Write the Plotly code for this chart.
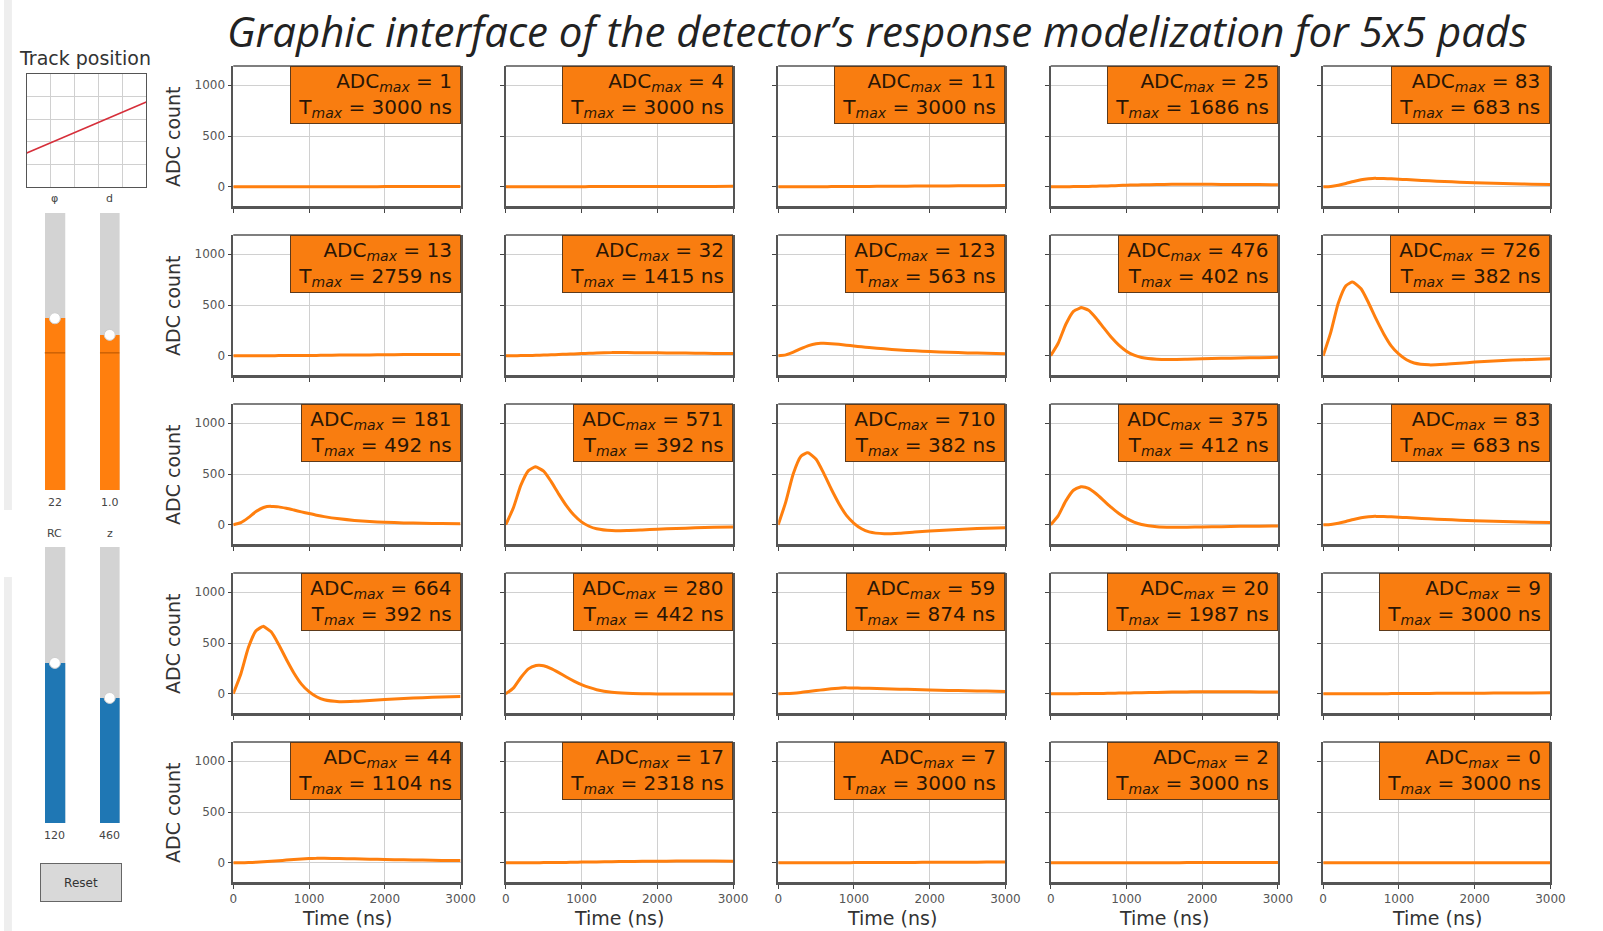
import plotly.graph_objects as go

W, H = 1603, 931

# Sampling times of the simulated pad signals (ns)
TIME_NS = [0, 100, 200, 300, 400, 500, 600, 700, 800, 900, 1000, 1100, 1200,
           1400, 1600, 1800, 2000, 2250, 2500, 2750, 3000]

# Peak amplitude and peak time of each pad (row by row, 5x5)
ADC_MAX = [[1, 4, 11, 25, 83],
           [13, 32, 123, 476, 726],
           [181, 571, 710, 375, 83],
           [664, 280, 59, 20, 9],
           [44, 17, 7, 2, 0]]
T_MAX = [[3000, 3000, 3000, 1686, 683],
         [2759, 1415, 563, 402, 382],
         [492, 392, 382, 412, 683],
         [392, 442, 874, 1987, 3000],
         [1104, 2318, 3000, 3000, 3000]]

# ADC count of each pad at TIME_NS
SIGNAL_ROW1 = [
    [0, 0, 0, 0, 0, 0, 0, 0, 0, 0, 0, 0, 0, 0, 0, 0, 1, 1, 1, 1, 1],
    [0, 0, 0, 0, 0, 0, 0, 0, 0, 0, 0, 1, 1, 1, 1, 2, 2, 2, 3, 3, 4],
    [0, 0, 0, 0, 0, 0, 0, 1, 1, 1, 2, 2, 3, 4, 5, 6, 7, 8, 9, 10, 11],
    [0, 0, 0, 1, 2, 3, 5, 7, 9, 12, 15, 17, 19, 22, 24, 24, 24, 23, 22, 21, 20],
    [0, 3, 15, 32, 52, 68, 78, 82, 81, 78, 74, 70, 66, 58, 51, 45, 40, 34, 29, 25, 21],
]
SIGNAL_ROW2 = [
    [0, 0, 0, 0, 0, 0, 1, 1, 1, 2, 3, 3, 4, 6, 7, 8, 9, 11, 12, 12, 12],
    [0, 0, 1, 2, 4, 6, 9, 12, 15, 18, 21, 24, 27, 31, 31, 30, 29, 27, 25, 23, 21],
    [0, 8, 35, 70, 100, 119, 122, 118, 112, 104, 96, 88, 81, 68, 57, 48, 41, 34, 28, 24, 20],
    [0, 125, 310, 438, 475, 448, 370, 275, 182, 105, 45, 5, -18, -35, -37, -34, -30, -26, -22, -19, -16],
    [0, 230, 520, 690, 724, 660, 520, 360, 215, 95, 15, -40, -72, -90, -85, -74, -63, -52, -43, -36, -30],
]
SIGNAL_ROW3 = [
    [0, 20, 70, 130, 170, 180, 176, 162, 145, 127, 110, 94, 80, 58, 42, 31, 24, 18, 14, 11, 9],
    [0, 165, 390, 533, 570, 528, 425, 302, 188, 95, 28, -15, -40, -58, -57, -51, -44, -37, -31, -26, -22],
    [0, 225, 505, 675, 708, 645, 508, 352, 210, 92, 14, -40, -70, -88, -83, -72, -62, -51, -42, -35, -29],
    [0, 90, 235, 340, 374, 358, 305, 238, 170, 110, 62, 26, 2, -20, -25, -24, -22, -19, -16, -14, -12],
    [0, 3, 15, 32, 52, 68, 78, 82, 81, 78, 74, 70, 66, 58, 51, 45, 40, 34, 29, 25, 21],
]
SIGNAL_ROW4 = [
    [0, 195, 455, 620, 663, 610, 485, 340, 205, 95, 20, -30, -60, -78, -75, -66, -57, -47, -39, -32, -27],
    [0, 55, 160, 245, 278, 276, 248, 208, 165, 125, 90, 62, 40, 14, 4, 0, -2, -3, -3, -3, -3],
    [0, 1, 5, 12, 21, 31, 40, 48, 55, 58, 57, 55, 53, 49, 45, 41, 37, 33, 29, 26, 23],
    [0, 0, 0, 0, 1, 1, 2, 3, 4, 6, 7, 9, 10, 13, 16, 18, 19, 19, 19, 18, 18],
    [0, 0, 0, 0, 0, 0, 0, 0, 0, 1, 1, 1, 2, 3, 4, 5, 5, 6, 7, 8, 9],
]
SIGNAL_ROW5 = [
    [0, 0, 2, 5, 9, 14, 20, 26, 32, 37, 41, 43, 43, 41, 38, 35, 32, 29, 26, 23, 21],
    [0, 0, 0, 0, 0, 1, 1, 2, 3, 4, 6, 7, 8, 10, 12, 14, 15, 16, 16, 16, 15],
    [0, 0, 0, 0, 0, 0, 0, 0, 0, 0, 1, 1, 1, 2, 2, 3, 4, 5, 5, 6, 7],
    [0, 0, 0, 0, 0, 0, 0, 0, 0, 0, 0, 0, 0, 0, 0, 1, 1, 1, 1, 2, 2],
    [0, 0, 0, 0, 0, 0, 0, 0, 0, 0, 0, 0, 0, 0, 0, 0, 0, 0, 0, 0, 0],
]
SIGNALS = [SIGNAL_ROW1, SIGNAL_ROW2, SIGNAL_ROW3, SIGNAL_ROW4, SIGNAL_ROW5]

X_TICKS = [0, 1000, 2000, 3000]
Y_TICKS = [0, 500, 1000]

# Track drawn in the small "Track position" view
TRACK_X = [0, 5]
TRACK_Y = [1.5, 3.76]

# Slider widgets: label, shown value, relative position, initial-value marker
SLIDER_LABELS = ["φ", "d", "RC", "z"]
SLIDER_VALUES = ["22", "1.0", "120", "460"]
SLIDER_LEVELS = [0.62, 0.56, 0.58, 0.453]
SLIDER_INIT = [0.495, 0.495, None, None]

ORANGE = "#ff7f0e"
BLUE = "#1f77b4"
FONT = "DejaVu Sans"


def fx(p):
    return p / W


def fy(p):
    return 1 - p / H


fig = go.Figure()
layout = {}
annotations = []
shapes = []

COL_LEFT, COL_STEP, PANEL_W = 232, 275.75, 230
ROW_TOP, ROW_STEP, PANEL_H = 66, 169, 140

for r in range(5):
    for c in range(5):
        k = r * 5 + c + 1
        xa = "x" if k == 1 else f"x{k}"
        ya = "y" if k == 1 else f"y{k}"
        xkey = "xaxis" if k == 1 else f"xaxis{k}"
        ykey = "yaxis" if k == 1 else f"yaxis{k}"
        x0 = COL_LEFT + c * COL_STEP
        y0 = ROW_TOP + r * ROW_STEP

        pts = dict(zip(TIME_NS, SIGNALS[r][c]))
        pts[T_MAX[r][c]] = ADC_MAX[r][c]
        ts = sorted(pts)
        fig.add_trace(go.Scatter(
            x=ts, y=[pts[t] for t in ts], mode="lines",
            line=dict(color=ORANGE, width=3, shape="spline", smoothing=0.6),
            xaxis=xa, yaxis=ya, showlegend=False, hoverinfo="skip"))

        layout[xkey] = dict(
            domain=[fx(x0), fx(x0 + PANEL_W)], range=[0, 3000], anchor=ya,
            tickvals=X_TICKS, showticklabels=(r == 4), ticks="outside",
            ticklen=4, tickcolor="#444", showgrid=True, gridcolor="#d0d0d0",
            gridwidth=1, showline=True, linecolor="#555", linewidth=2.5,
            zeroline=False, fixedrange=True,
            tickfont=dict(family=FONT, size=12, color="#555"))
        layout[ykey] = dict(
            domain=[fy(y0 + PANEL_H), fy(y0)], range=[-190, 1190], anchor=xa,
            tickvals=Y_TICKS, showticklabels=(c == 0), ticks="outside",
            ticklen=4, tickcolor="#444", showgrid=True, gridcolor="#d0d0d0",
            gridwidth=1, showline=True, mirror=True, linecolor="#555",
            linewidth=1.5, zeroline=False, fixedrange=True,
            tickfont=dict(family=FONT, size=12, color="#555"))
        # top spine
        shapes.append(dict(type="line", xref=f"{xa} domain", yref=f"{ya} domain",
                           x0=0, x1=1, y0=1, y1=1,
                           line=dict(color="#555", width=1.5)))

        annotations.append(dict(
            xref=f"{xa} domain", yref=f"{ya} domain", x=1, y=1,
            xanchor="right", yanchor="top", align="right", showarrow=False,
            text=(f"&nbsp;ADC<sub><i>max</i></sub> = {ADC_MAX[r][c]}&nbsp;<br>"
                  f"&nbsp;T<sub><i>max</i></sub> = {T_MAX[r][c]} ns&nbsp;"),
            font=dict(family=FONT, size=20, color="#2a1606"),
            bgcolor="#f97d10", bordercolor="#5c3a1c", borderwidth=1,
            borderpad=2))

        if c == 0:
            annotations.append(dict(
                xref="paper", yref="paper", x=fx(171), y=fy(y0 + PANEL_H / 2),
                xanchor="center", yanchor="middle", textangle=-90,
                showarrow=False, text="ADC count",
                font=dict(family=FONT, size=19, color="#333")))
        if r == 4:
            annotations.append(dict(
                xref="paper", yref="paper", x=fx(x0 + PANEL_W / 2), y=fy(918),
                xanchor="center", yanchor="middle", showarrow=False,
                text="Time (ns)", font=dict(family=FONT, size=19, color="#333")))

# Track position view
k = 26
fig.add_trace(go.Scatter(x=TRACK_X, y=TRACK_Y, mode="lines",
                         line=dict(color="#d62f3a", width=1.6),
                         xaxis=f"x{k}", yaxis=f"y{k}", showlegend=False,
                         hoverinfo="skip"))
layout[f"xaxis{k}"] = dict(domain=[fx(23), fx(144)], range=[0, 5], dtick=1,
                           anchor=f"y{k}", showticklabels=False, ticks="",
                           showgrid=True, gridcolor="#d0d0d0", showline=True,
                           mirror=True, linecolor="#555", linewidth=1.2,
                           zeroline=False, fixedrange=True)
layout[f"yaxis{k}"] = dict(domain=[fy(187), fy(74)], range=[0, 5], dtick=1,
                           anchor=f"x{k}", showticklabels=False, ticks="",
                           showgrid=True, gridcolor="#d0d0d0", showline=True,
                           mirror=True, linecolor="#555", linewidth=1.2,
                           zeroline=False, fixedrange=True)
annotations.append(dict(xref="paper", yref="paper", x=fx(82), y=fy(58),
                        xanchor="center", yanchor="middle", showarrow=False,
                        text="Track position",
                        font=dict(family=FONT, size=19, color="#333")))

# Sliders
SLIDER_BOXES = [(41, 62, 213, 490), (97, 117, 213, 490),
                (41, 62, 547, 823), (97, 117, 547, 823)]
SLIDER_COLORS = [ORANGE, ORANGE, BLUE, BLUE]
for i in range(4):
    k = 27 + i
    xl, xr, yt, yb = SLIDER_BOXES[i]
    xa, ya = f"x{k}", f"y{k}"
    fig.add_trace(go.Bar(x=[0], y=[1], width=1, marker=dict(color="#d3d3d3", line=dict(width=0)),
                         xaxis=xa, yaxis=ya, showlegend=False, hoverinfo="skip"))
    fig.add_trace(go.Bar(x=[0], y=[SLIDER_LEVELS[i]], width=1,
                         marker=dict(color=SLIDER_COLORS[i], line=dict(width=0)),
                         xaxis=xa, yaxis=ya, showlegend=False, hoverinfo="skip"))
    if SLIDER_INIT[i] is not None:
        fig.add_trace(go.Scatter(x=[-0.5, 0.5], y=[SLIDER_INIT[i]] * 2, mode="lines",
                                 line=dict(color="#b25200", width=1),
                                 xaxis=xa, yaxis=ya, showlegend=False, hoverinfo="skip"))
    fig.add_trace(go.Scatter(x=[0], y=[SLIDER_LEVELS[i]], mode="markers",
                             marker=dict(color="white", size=11,
                                         line=dict(color="#cfcfcf", width=1)),
                             xaxis=xa, yaxis=ya, showlegend=False, hoverinfo="skip"))
    layout[f"xaxis{k}"] = dict(domain=[fx(xl), fx(xr)], range=[-0.5, 0.5],
                               anchor=ya, visible=False, fixedrange=True)
    layout[f"yaxis{k}"] = dict(domain=[fy(yb), fy(yt)], range=[0, 1],
                               anchor=xa, visible=False, fixedrange=True)
    xc = (xl + xr) / 2
    annotations.append(dict(xref="paper", yref="paper", x=fx(xc), y=fy(yt - 14),
                            xanchor="center", yanchor="middle", showarrow=False,
                            text=SLIDER_LABELS[i],
                            font=dict(family=FONT, size=11, color="#444")))
    annotations.append(dict(xref="paper", yref="paper", x=fx(xc), y=fy(yb + 12),
                            xanchor="center", yanchor="middle", showarrow=False,
                            text=SLIDER_VALUES[i],
                            font=dict(family=FONT, size=11, color="#444")))

# Reset button
annotations.append(dict(xref="paper", yref="paper", x=fx(78), y=fy(882),
                        xanchor="center", yanchor="middle", showarrow=False,
                        text="Reset", width=78, height=35,
                        bgcolor="#d9d9d9", bordercolor="#666", borderwidth=1,
                        font=dict(family=FONT, size=12, color="#333")))

# Title
annotations.append(dict(xref="paper", yref="paper", x=fx(883), y=fy(30),
                        xanchor="center", yanchor="middle", showarrow=False,
                        text="<i>Graphic interface of the detector’s response modelization for 5x5 pads</i>",
                        font=dict(family="Open Sans", size=42, color="#222")))

# Window side strip
shapes.append(dict(type="rect", xref="paper", yref="paper", x0=0, x1=fx(8),
                   y0=fy(510), y1=1, fillcolor="#eeeeee", line=dict(width=0),
                   layer="below"))
shapes.append(dict(type="rect", xref="paper", yref="paper", x0=0, x1=fx(8),
                   y0=0, y1=fy(577), fillcolor="#eeeeee", line=dict(width=0),
                   layer="below"))

fig.update_layout(width=W, height=H, margin=dict(l=0, r=0, t=0, b=0),
                  paper_bgcolor="white", plot_bgcolor="white",
                  barmode="overlay", bargap=0, showlegend=False,
                  annotations=annotations, shapes=shapes, **layout)

fig.write_html("out.html", config={"displayModeBar": False})
